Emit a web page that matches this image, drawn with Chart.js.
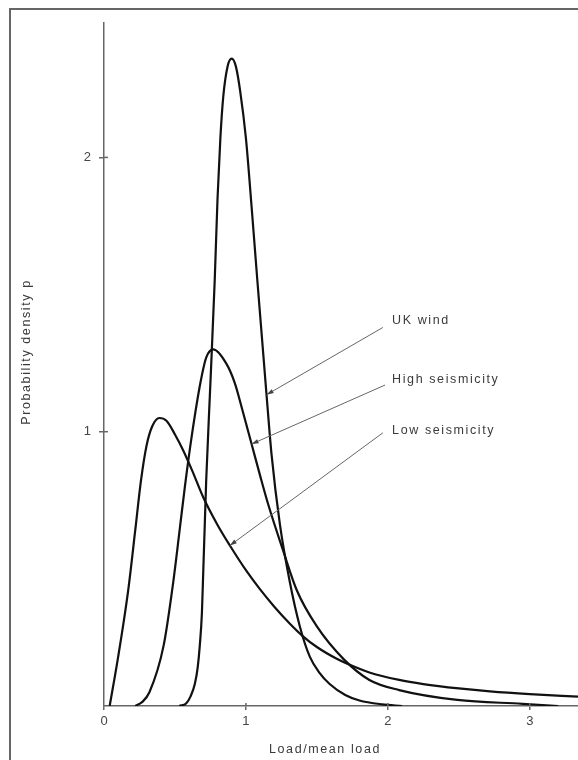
<!DOCTYPE html>
<html>
<head>
<meta charset="utf-8">
<script src="https://cdn.jsdelivr.net/npm/chart.js@4/dist/chart.umd.min.js"></script>
<style>
  html, body { margin: 0; padding: 0; background: #fff; }
  #wrap { position: relative; width: 578px; height: 760px; overflow: hidden; }
  #frame { position: absolute; left: 9px; top: 8px; width: 580px; height: 760px;
           border-left: 2px solid #666; border-top: 2px solid #666; pointer-events: none; }
  canvas { position: absolute; left: 0; top: 0; }
</style>
</head>
<body>
<div id="wrap">
  <canvas id="c" width="578" height="760"></canvas>
  <div id="frame"></div>
</div>
<script>
// ---- data ----
const seriesNames = ['UK wind', 'High seismicity', 'Low seismicity'];

const ukWindX = [0.53, 0.58, 0.61, 0.64, 0.66, 0.675, 0.69, 0.70, 0.71, 0.72, 0.75, 0.78, 0.80, 0.82, 0.84, 0.87, 0.90, 0.93, 0.96, 1.00, 1.04, 1.08, 1.146, 1.18, 1.24, 1.31, 1.38, 1.45, 1.52, 1.59, 1.70, 1.80, 1.96, 2.10];
const ukWindY = [0.00, 0.01, 0.035, 0.08, 0.14, 0.22, 0.34, 0.50, 0.66, 0.82, 1.18, 1.55, 1.85, 2.07, 2.22, 2.33, 2.36, 2.33, 2.24, 2.07, 1.82, 1.555, 1.13, 0.92, 0.66, 0.45, 0.29, 0.18, 0.12, 0.08, 0.04, 0.02, 0.006, 0.00];

const highSeisX = [0.22, 0.27, 0.32, 0.42, 0.49, 0.535, 0.57, 0.62, 0.68, 0.72, 0.77, 0.86, 0.92, 0.98, 1.04, 1.10, 1.16, 1.26, 1.36, 1.50, 1.69, 1.87, 2.08, 2.49, 2.95, 3.20];
const highSeisY = [0.00, 0.015, 0.05, 0.22, 0.46, 0.65, 0.80, 0.99, 1.18, 1.27, 1.30, 1.25, 1.18, 1.07, 0.955, 0.84, 0.73, 0.57, 0.42, 0.29, 0.17, 0.095, 0.058, 0.022, 0.008, 0.00];

const lowSeisX = [0.04, 0.10, 0.17, 0.22, 0.26, 0.30, 0.34, 0.39, 0.44, 0.50, 0.56, 0.62, 0.70, 0.80, 0.887, 1.00, 1.10, 1.20, 1.31, 1.40, 1.50, 1.64, 1.71, 1.87, 2.08, 2.25, 2.50, 2.72, 3.00, 3.34];
const lowSeisY = [0.00, 0.18, 0.42, 0.64, 0.82, 0.95, 1.02, 1.05, 1.04, 0.99, 0.93, 0.86, 0.76, 0.66, 0.585, 0.495, 0.425, 0.362, 0.30, 0.255, 0.215, 0.172, 0.155, 0.122, 0.095, 0.080, 0.064, 0.053, 0.043, 0.034];

const xTickValues = [0, 1, 2, 3];
const yTickValues = [1, 2];
const xAxisTitle = 'Load/mean load';
const yAxisTitle = 'Probability density p';

// labels with leader lines (data coordinates)
const labelTextX = [2.03, 2.03, 2.03];
const labelTextY = [1.405, 1.19, 1.005];
const leaderFromX = [1.965, 1.98, 1.965];
const leaderFromY = [1.38, 1.17, 0.996];
const leaderToX = [1.146, 1.04, 0.887];
const leaderToY = [1.135, 0.955, 0.585];

// ---- build ----
function pts(xs, ys) { return xs.map((x, i) => ({ x: x, y: ys[i] })); }
const seriesData = [pts(ukWindX, ukWindY), pts(highSeisX, highSeisY), pts(lowSeisX, lowSeisY)];

const annotPlugin = {
  id: 'annot',
  afterDraw(chart) {
    const ctx = chart.ctx;
    const xs = chart.scales.x, ys = chart.scales.y;
    const ca = chart.chartArea;
    ctx.save();
    // inward halves of tick marks
    ctx.strokeStyle = '#666';
    ctx.lineWidth = 1.5;
    yTickValues.forEach(v => {
      const py = ys.getPixelForValue(v);
      ctx.beginPath(); ctx.moveTo(ca.left, py); ctx.lineTo(ca.left + 4, py); ctx.stroke();
    });
    xTickValues.forEach(v => {
      if (v === 0) return;
      const px = xs.getPixelForValue(v);
      ctx.beginPath(); ctx.moveTo(px, ca.bottom); ctx.lineTo(px, ca.bottom - 3); ctx.stroke();
    });
    // leader lines + labels
    ctx.strokeStyle = '#666';
    ctx.fillStyle = '#444';
    ctx.lineWidth = 1;
    for (let i = 0; i < seriesNames.length; i++) {
      const x0 = xs.getPixelForValue(leaderFromX[i]), y0 = ys.getPixelForValue(leaderFromY[i]);
      const x1 = xs.getPixelForValue(leaderToX[i]), y1 = ys.getPixelForValue(leaderToY[i]);
      ctx.beginPath(); ctx.moveTo(x0, y0); ctx.lineTo(x1, y1); ctx.stroke();
      const a = Math.atan2(y1 - y0, x1 - x0);
      const L = 7, W = 2.2;
      ctx.beginPath();
      ctx.moveTo(x1, y1);
      ctx.lineTo(x1 - L * Math.cos(a) + W * Math.sin(a), y1 - L * Math.sin(a) - W * Math.cos(a));
      ctx.lineTo(x1 - L * Math.cos(a) - W * Math.sin(a), y1 - L * Math.sin(a) + W * Math.cos(a));
      ctx.closePath();
      ctx.fill();
    }
    ctx.font = '12.5px "Liberation Sans", Arial, sans-serif';
    if ('letterSpacing' in ctx) ctx.letterSpacing = '1.6px';
    ctx.textAlign = 'left';
    ctx.textBaseline = 'middle';
    ctx.fillStyle = '#3a3a3a';
    for (let i = 0; i < seriesNames.length; i++) {
      ctx.fillText(seriesNames[i], xs.getPixelForValue(labelTextX[i]), ys.getPixelForValue(labelTextY[i]));
    }
    // axis titles
    ctx.textAlign = 'center';
    ctx.fillText(xAxisTitle, 325, 750);
    ctx.translate(27, 352);
    ctx.rotate(-Math.PI / 2);
    ctx.fillText(yAxisTitle, 0, 0);
    ctx.restore();
  }
};

const colors = ['#111', '#111', '#111'];

new Chart(document.getElementById('c'), {
  type: 'line',
  data: {
    datasets: seriesData.map((d, i) => ({
      label: seriesNames[i],
      data: d,
      borderColor: colors[i],
      borderWidth: 2.2,
      pointRadius: 0,
      fill: false,
      cubicInterpolationMode: 'monotone'
    }))
  },
  options: {
    responsive: false,
    devicePixelRatio: 1,
    animation: false,
    events: [],
    layout: { padding: { top: 23, right: 0, bottom: 0, left: 0 } },
    plugins: { legend: { display: false }, tooltip: { enabled: false }, title: { display: false } },
    scales: {
      x: {
        type: 'linear',
        min: 0,
        max: 3.34,
        afterBuildTicks: s => { s.ticks = xTickValues.map(v => ({ value: v })); },
        afterFit: s => { s.height = 54; },
        grid: { drawOnChartArea: false, drawTicks: true, tickLength: 4, color: '#666', lineWidth: 1.5 },
        border: { display: true, color: '#666', width: 1.5 },
        ticks: { color: '#444', font: { family: '"Liberation Sans", Arial, sans-serif', size: 13 }, padding: 4, maxRotation: 0,
                 callback: v => String(v) }
      },
      y: {
        type: 'linear',
        min: 0,
        max: 2.49,
        afterBuildTicks: s => { s.ticks = yTickValues.map(v => ({ value: v })); },
        afterFit: s => { s.width = 104; },
        grid: { drawOnChartArea: false, drawTicks: true, tickLength: 5, color: '#666', lineWidth: 1.5 },
        border: { display: true, color: '#666', width: 1.5 },
        ticks: { color: '#444', font: { family: '"Liberation Sans", Arial, sans-serif', size: 13 }, padding: 8,
                 callback: v => String(v) }
      }
    }
  },
  plugins: [annotPlugin]
});
</script>
</body>
</html>
